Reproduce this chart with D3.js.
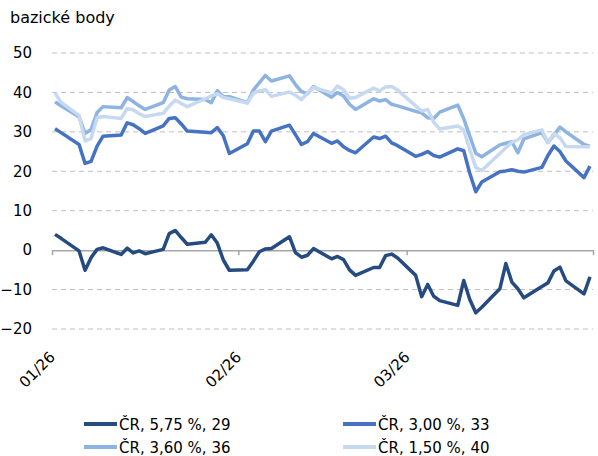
<!DOCTYPE html>
<html>
<head>
<meta charset="utf-8">
<script src="https://cdn.jsdelivr.net/npm/d3@7"></script>
<style>
  body { margin: 0; background: #fff; }
  svg text { font-family: "DejaVu Sans", Verdana, sans-serif; fill: #000; }
</style>
</head>
<body>
<svg width="598" height="456"></svg>
<script>
// trading days, Jan - Mar 2026
var dates = [
  "2026-01-01","2026-01-02","2026-01-05","2026-01-06","2026-01-07","2026-01-08","2026-01-09",
  "2026-01-12","2026-01-13","2026-01-14","2026-01-15","2026-01-16",
  "2026-01-19","2026-01-20","2026-01-21","2026-01-22","2026-01-23",
  "2026-01-26","2026-01-27","2026-01-28","2026-01-29","2026-01-30",
  "2026-02-02","2026-02-03","2026-02-04","2026-02-05","2026-02-06",
  "2026-02-09","2026-02-10","2026-02-11","2026-02-12","2026-02-13",
  "2026-02-16","2026-02-17","2026-02-18","2026-02-19","2026-02-20",
  "2026-02-23","2026-02-24","2026-02-25","2026-02-26","2026-02-27",
  "2026-03-02","2026-03-03","2026-03-04","2026-03-05","2026-03-06",
  "2026-03-09","2026-03-10","2026-03-11","2026-03-12","2026-03-13",
  "2026-03-16","2026-03-17","2026-03-18","2026-03-19","2026-03-20",
  "2026-03-23","2026-03-24","2026-03-25","2026-03-26","2026-03-27",
  "2026-03-30","2026-03-31"
];

var cr575 = [4.0,3.0,-0.2,-5.1,-1.9,0.2,0.6, -1.1,0.5,-0.7,-0.2,-0.9, 0.2,4.2,5.0,3.2,1.5,
  2.0,3.9,1.8,-2.5,-5.1, -5.0,-2.8,-0.4,0.3,0.4, 3.4,-0.6,-1.8,-1.3,0.4, -2.2,-1.6,-2.4,-5.0,-6.4,
  -4.4,-4.4,-1.4,-1.0,-2.0, -6.4,-11.8,-8.7,-11.7,-12.8, -14.0,-7.7,-12.5,-15.9,-14.5,
  -9.8,-3.4,-8.1,-9.8,-12.1, -9.2,-8.3,-5.3,-4.3,-7.8, -11.1,-6.8];

var cr300 = [30.8,29.8,26.8,22.0,22.5,26.4,28.9, 29.2,32.3,31.8,30.8,29.6, 31.5,33.4,33.6,32.0,30.2,
  29.9,29.8,31.1,29.0,24.5, 27.0,30.2,30.2,27.5,30.2, 31.7,29.3,26.8,27.5,29.6, 27.1,27.7,26.2,25.3,24.7,
  28.7,28.3,28.9,27.2,26.5, 23.8,24.3,25.0,24.0,23.6, 25.7,25.2,19.5,14.8,17.3,
  19.9,20.1,20.4,20.0,19.8, 21.0,24.0,26.4,25.0,22.6, 18.4,21.3];

var cr360 = [37.6,36.6,33.8,29.6,30.6,34.9,36.4, 36.1,38.7,37.7,36.6,35.7, 37.4,40.6,41.5,38.8,38.4,
  38.2,37.4,40.4,38.9,38.9, 37.4,40.6,42.5,44.3,42.9, 44.2,42.0,40.2,39.7,41.5, 38.8,40.0,39.1,37.0,35.7,
  38.4,37.8,38.2,37.0,36.6, 35.2,34.8,33.6,33.4,35.0, 36.8,33.3,28.9,24.6,23.7,
  26.7,27.1,27.5,24.7,28.2, 29.8,27.3,29.2,31.2,30.0, 26.8,26.3];

var cr150 = [39.9,37.5,34.2,27.7,28.3,33.6,33.9, 33.4,35.9,35.6,34.6,33.9, 34.7,36.5,38.1,37.2,36.4,
  38.4,39.1,39.7,38.7,38.4, 37.3,39.8,40.4,40.7,39.0, 40.1,39.3,38.2,39.8,41.3, 39.9,41.6,40.7,38.5,38.7,
  41.1,40.4,41.4,41.5,40.6, 36.6,35.3,35.7,32.5,30.7, 31.5,30.5,25.5,21.0,20.2,
  24.5,26.0,27.3,28.0,29.3, 30.5,27.3,29.6,28.5,26.3, 26.2,26.2];

var seriesNames = ["ČR, 5,75 %, 29", "ČR, 3,00 %, 33", "ČR, 3,60 %, 36", "ČR, 1,50 %, 40"];
var seriesColors = ["#264b80", "#4672c4", "#8db3e2", "#c6d9f1"];
var yTicks = [-20, -10, 0, 10, 20, 30, 40, 50];
var xTickDates = ["2026-01-01", "2026-02-01", "2026-03-01", "2026-04-01"];

var svg = d3.select("svg");
var parse = d3.timeParse("%Y-%m-%d"),
    fmt = d3.timeFormat("%m/%y");

var x = d3.scaleTime()
    .domain([parse("2026-01-01"), parse("2026-04-01")])
    .range([52, 593]);
var y = d3.scaleLinear()
    .domain([-20, 50])
    .range([329, 53]);

// excel puts points in the middle of the day slot
var halfDay = (x(parse("2026-01-02")) - x(parse("2026-01-01"))) / 2;

svg.append("text")
    .attr("x", 10)
    .attr("y", 23)
    .style("font-size", "16px")
    .text("bazické body");

// gridlines
svg.append("g")
    .selectAll("line")
    .data(yTicks.filter(function(d) { return d != 0; }))
    .enter()
        .append("line")
        .attr("x1", 52)
        .attr("x2", 593)
        .attr("y1", function(d) { return y(d); })
        .attr("y2", function(d) { return y(d); })
        .attr("stroke", "#bfbfbf")
        .attr("stroke-width", 1)
        .attr("stroke-dasharray", "5,4");

var yAxis = svg.append("g")
    .attr("transform", "translate(52,0)")
    .call(d3.axisLeft(y).tickValues(yTicks).tickSize(0).tickPadding(20));
yAxis.select(".domain").remove();
yAxis.selectAll("text")
    .style("font-size", "15px")
    .style("font-family", "DejaVu Sans, Verdana, sans-serif");

// zero axis with ticks
var xAxis = svg.append("g")
    .attr("transform", "translate(0," + y(0) + ")")
    .call(d3.axisBottom(x).tickValues(xTickDates.map(parse)).tickSize(5).tickSizeOuter(0).tickFormat(""));
xAxis.select(".domain").attr("stroke", "#a6a6a6").attr("stroke-width", 1.5);
xAxis.selectAll(".tick line").attr("stroke", "#a6a6a6").attr("stroke-width", 1.5);

svg.append("g")
    .selectAll("text")
    .data(xTickDates.slice(0, 3).map(parse))
    .enter()
        .append("text")
        .attr("transform", function(d) { return "translate(" + (x(d) + 4) + ",358) rotate(-45)"; })
        .attr("text-anchor", "end")
        .style("font-size", "15px")
        .text(function(d) { return fmt(d); });

var line = d3.line()
    .x(function(d) { return x(d.date) + halfDay; })
    .y(function(d) { return y(d.value); });

var allSeries = [cr575, cr300, cr360, cr150].map(function(vals, i) {
    return {
        name: seriesNames[i],
        color: seriesColors[i],
        points: vals.map(function(v, j) { return {date: parse(dates[j]), value: v}; })
    };
});

svg.append("g")
    .selectAll("path")
    .data(allSeries)
    .enter()
        .append("path")
        .attr("d", function(d) { return line(d.points); })
        .attr("fill", "none")
        .attr("stroke", function(d) { return d.color; })
        .attr("stroke-width", 3.5)
        .attr("stroke-linejoin", "round");

// legend, two columns
var legend = svg.append("g")
    .selectAll("g")
    .data(allSeries)
    .enter()
        .append("g")
        .attr("transform", function(d, i) {
            return "translate(" + (i % 2 == 0 ? 84 : 343) + "," + (424 + Math.floor(i / 2) * 23) + ")";
        });
legend.append("line")
    .attr("x1", 0).attr("x2", 33)
    .attr("stroke", function(d) { return d.color; })
    .attr("stroke-width", 4);
legend.append("text")
    .attr("x", 35)
    .attr("y", 5.5)
    .style("font-size", "15px")
    .text(function(d) { return d.name; });
</script>
</body>
</html>
